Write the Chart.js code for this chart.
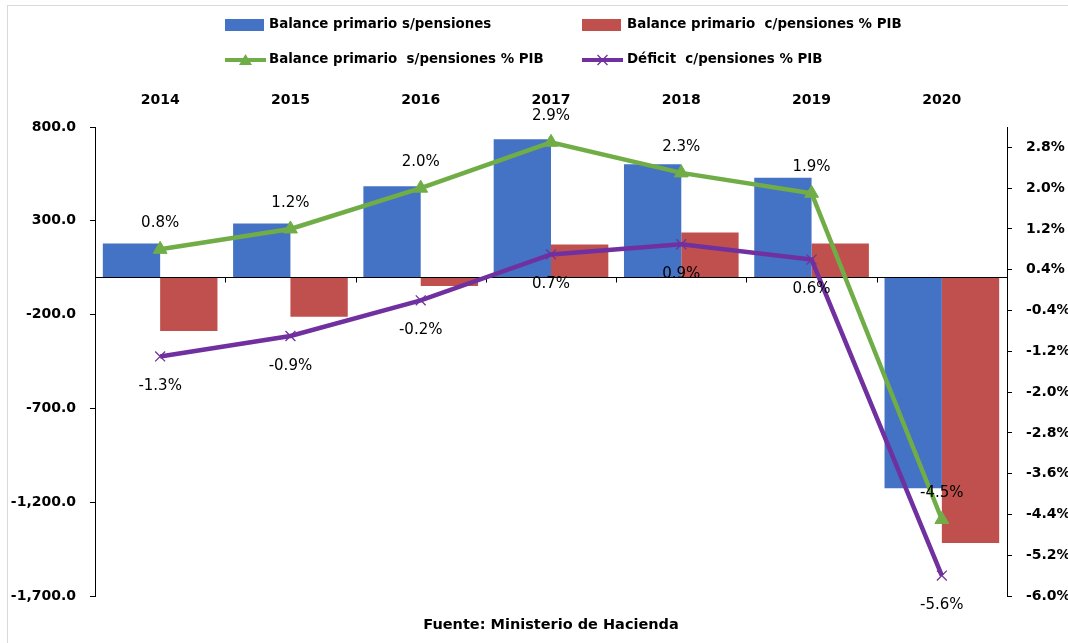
<!DOCTYPE html>
<html><head><meta charset="utf-8">
<script src="https://cdn.jsdelivr.net/npm/chart.js@4.4.1/dist/chart.umd.min.js"></script>
<style>html,body{margin:0;padding:0;background:#fff;} canvas{display:block;}</style>
</head><body>
<canvas id="c" width="1068" height="643"></canvas>
<script>
// ---- data ----
const categories = ['2014', '2015', '2016', '2017', '2018', '2019', '2020'];
const balanceSinPensiones = [179, 285, 484, 735, 601, 529, -1125];
const balanceConPensiones = [-288, -212, -47, 174, 238, 179, -1418];
const balanceSinPensionesPIB = [0.8, 1.2, 2.0, 2.9, 2.3, 1.9, -4.5];
const deficitConPensionesPIB = [-1.3, -0.9, -0.2, 0.7, 0.9, 0.6, -5.6];
const leftTicks = [800, 300, -200, -700, -1200, -1700];
const rightTicks = [2.8, 2.0, 1.2, 0.4, -0.4, -1.2, -2.0, -2.8, -3.6, -4.4, -5.2, -6.0];
const seriesLabels = [
  'Balance primario s/pensiones',
  'Balance primario  c/pensiones % PIB',
  'Balance primario  s/pensiones % PIB',
  'Déficit  c/pensiones % PIB'
];
const sourceText = 'Fuente: Ministerio de Hacienda';

// ---- style ----
const FONT = "'DejaVu Sans', sans-serif";
const BLUE = '#4472C4', RED = '#C0504D', GREEN = '#70AD47', PURPLE = '#7030A0';

const fmtLeft = v => (v < 0 ? '-' : '') + Math.abs(v).toLocaleString('en-US', {minimumFractionDigits: 1, maximumFractionDigits: 1});
const fmtPct = v => v.toFixed(1) + '%';

const decor = {
  id: 'decor',
  afterDatasetDraw(chart, args) {
    if (args.index !== 0) return;
    const {ctx, chartArea: a, scales: {x, y}} = chart;
    const y0 = Math.round(y.getPixelForValue(0)) + 0.5;
    const half = (x.getPixelForValue(1) - x.getPixelForValue(0)) / 2;
    ctx.save();
    ctx.strokeStyle = '#000'; ctx.lineWidth = 1;
    ctx.beginPath();
    ctx.moveTo(a.left, y0); ctx.lineTo(a.right, y0);
    for (let i = 0; i < categories.length - 1; i++) {
      const xb = Math.round(x.getPixelForValue(i) + half) + 0.5;
      ctx.moveTo(xb, y0); ctx.lineTo(xb, y0 + 5);
    }
    ctx.stroke();
    ctx.restore();
  },
  afterDatasetsDraw(chart) {
    const ctx = chart.ctx;
    ctx.save();
    ctx.font = '15px ' + FONT;
    ctx.fillStyle = '#000';
    ctx.textAlign = 'center';
    ctx.textBaseline = 'middle';
    [[2, -26], [3, 30]].forEach(([di, off]) => {
      const meta = chart.getDatasetMeta(di);
      const vals = chart.data.datasets[di].data;
      meta.data.forEach((pt, i) => ctx.fillText(fmtPct(vals[i]), pt.x, pt.y + off));
    });
    ctx.restore();
  },
  afterDraw(chart) {
    const ctx = chart.ctx;
    ctx.save();
    // legend
    const colMark = [225, 582], colText = [269, 627], rowY = [25, 60];
    ctx.font = 'bold 13.4px ' + FONT;
    ctx.textBaseline = 'middle';
    ctx.textAlign = 'left';
    chart.data.datasets.forEach((ds, i) => {
      const col = i % 2, row = Math.floor(i / 2);
      const mx = colMark[col], my = rowY[row];
      if (ds.type === 'bar') {
        ctx.fillStyle = ds.backgroundColor;
        ctx.fillRect(mx, my - 6, 39, 12);
      } else {
        ctx.strokeStyle = ds.borderColor; ctx.lineWidth = 4;
        ctx.beginPath(); ctx.moveTo(mx, my); ctx.lineTo(mx + 41, my); ctx.stroke();
        ctx.fillStyle = ds.borderColor; ctx.strokeStyle = ds.borderColor;
        const cx = mx + 20.5;
        if (ds.pointStyle === 'triangle') {
          ctx.beginPath(); ctx.moveTo(cx, my - 6); ctx.lineTo(cx + 6.5, my + 5); ctx.lineTo(cx - 6.5, my + 5); ctx.closePath(); ctx.fill();
        } else {
          ctx.lineWidth = 1.3;
          ctx.beginPath(); ctx.moveTo(cx - 5, my - 5); ctx.lineTo(cx + 5, my + 5); ctx.moveTo(cx + 5, my - 5); ctx.lineTo(cx - 5, my + 5); ctx.stroke();
        }
      }
      ctx.fillStyle = '#000';
      ctx.fillText(ds.label, colText[col], my);
    });
    // source
    const a = chart.chartArea;
    ctx.font = 'bold 14.5px ' + FONT;
    ctx.textAlign = 'center';
    ctx.fillText(sourceText, (a.left + a.right) / 2, 625);
    // frame
    ctx.strokeStyle = '#D9D9D9'; ctx.lineWidth = 1;
    ctx.strokeRect(7.5, 5.5, 1070, 650);
    ctx.restore();
  }
};

new Chart(document.getElementById('c'), {
  data: {
    labels: categories,
    datasets: [
      {type: 'bar', label: seriesLabels[0], data: balanceSinPensiones, backgroundColor: BLUE, yAxisID: 'y', order: 1,
       categoryPercentage: 0.88, barPercentage: 1.0},
      {type: 'bar', label: seriesLabels[1], data: balanceConPensiones, backgroundColor: RED, yAxisID: 'y', order: 1,
       categoryPercentage: 0.88, barPercentage: 1.0},
      {type: 'line', label: seriesLabels[2], data: balanceSinPensionesPIB, borderColor: GREEN, backgroundColor: GREEN,
       borderWidth: 4.5, pointStyle: 'triangle', pointRadius: 8, pointBorderWidth: 1, pointBackgroundColor: GREEN, pointBorderColor: GREEN,
       tension: 0, yAxisID: 'y1', order: 0},
      {type: 'line', label: seriesLabels[3], data: deficitConPensionesPIB, borderColor: PURPLE, backgroundColor: PURPLE,
       borderWidth: 4.5, pointStyle: 'crossRot', pointRadius: 7, pointBorderWidth: 1.3, pointBorderColor: PURPLE,
       tension: 0, yAxisID: 'y1', order: 0}
    ]
  },
  options: {
    responsive: false,
    animation: false,
    devicePixelRatio: 1,
    layout: {padding: {top: 0, left: 0, right: 0, bottom: 47}},
    plugins: {legend: {display: false}, tooltip: {enabled: false}, title: {display: false}},
    scales: {
      x: {
        type: 'category', position: 'top', offset: true,
        grid: {display: false, drawTicks: false}, border: {display: false},
        ticks: {font: {family: FONT, size: 14, weight: 'bold'}, color: '#000', padding: 18, maxRotation: 0},
        afterFit(s) { s.height = 127; }
      },
      y: {
        position: 'left', min: -1700, max: 800,
        afterBuildTicks(s) { s.ticks = leftTicks.map(v => ({value: v})); },
        grid: {display: true, drawOnChartArea: false, drawTicks: true, tickLength: 5, color: '#000', tickColor: '#000'},
        border: {display: true, color: '#000', width: 1},
        ticks: {font: {family: FONT, size: 14, weight: 'bold'}, color: '#000', padding: 14, callback: v => fmtLeft(v)},
        afterFit(s) { s.width = 95; }
      },
      y1: {
        position: 'right', min: -6.0, max: 3.2,
        afterBuildTicks(s) { s.ticks = rightTicks.map(v => ({value: v})); },
        grid: {display: true, drawOnChartArea: false, drawTicks: true, tickLength: 5, color: '#000', tickColor: '#000'},
        border: {display: true, color: '#000', width: 1},
        ticks: {font: {family: FONT, size: 14, weight: 'bold'}, color: '#000', padding: 14, callback: v => fmtPct(v)},
        afterFit(s) { s.width = 61; }
      }
    }
  },
  plugins: [decor]
});
</script>
</body></html>
